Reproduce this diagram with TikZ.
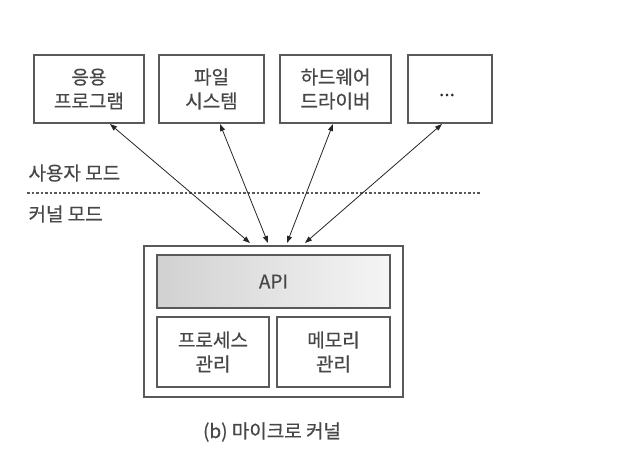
\documentclass[tikz,border=0pt]{standalone}
\usepackage{fontspec}
\setmainfont{Noto Sans CJK KR}[BoldFont={Noto Sans CJK KR},BoldFeatures={FakeBold=0.5}]
\usetikzlibrary{arrows.meta}
\begin{document}
\begin{tikzpicture}[x=1pt,y=-1pt,
  box/.style={draw=black!65,line width=1.4pt,fill=white,inner sep=0pt},
  lbl/.style={text=black!72,font=\fontsize{19}{24}\selectfont\bfseries,align=center},
  conn/.style={draw=black!85,line width=0.8pt,{Triangle[length=7pt,width=5pt]}-{Triangle[length=7pt,width=5pt]}}]
\useasboundingbox (0,0) rectangle (643,475);
\fill[white] (0,0) rectangle (643,475);
% top boxes
\node[box,minimum width=110pt,minimum height=68pt] (b1) at (89,89) {};
\node[box,minimum width=105pt,minimum height=68pt] (b2) at (211.5,89) {};
\node[box,minimum width=111pt,minimum height=68pt] (b3) at (335.5,89) {};
\node[box,minimum width=84pt,minimum height=68pt] (b4) at (450,89) {};
\node[lbl] (t1) at (b1) {응용\\프로그램};
\node[lbl] (t2) at (b2) {파일\\시스템};
\node[lbl] (t3) at (b3) {하드웨어\\드라이버};
\node[lbl,font=\fontsize{19}{24}\selectfont\bfseries,text=black!85] (t4) at (447,95) {...};
% mode labels and divider
\node[lbl,anchor=west] (um) at (25,173) {사용자 모드};
\node[lbl,anchor=west] (km) at (25,214) {커널 모드};
\coordinate (dl) at (27,193);
\coordinate (dr) at (480,193);
\draw[black!65,line width=1.2pt,dash pattern=on 2.5pt off 2pt] (dl) -- (dr);
% kernel
\node[box,minimum width=259pt,minimum height=151pt] (ker) at (273.5,321.5) {};
\node[draw=black!65,line width=1.4pt,inner sep=0pt,minimum width=233pt,minimum height=53pt,
  left color=black!18,right color=black!4] (api) at (273.5,281.5) {};
\node[lbl] (apit) at (api) {API};
\node[box,minimum width=112pt,minimum height=70pt] (pm) at (213,352) {};
\node[box,minimum width=113pt,minimum height=70pt] (mm) at (333.5,352) {};
\node[lbl] (pmt) at (pm) {프로세스\\관리};
\node[lbl] (mmt) at (mm) {메모리\\관리};
% arrows
\coordinate (a1t) at (110,124);
\coordinate (a2t) at (220,124);
\coordinate (a3t) at (333,124);
\coordinate (a4t) at (442,124);
\coordinate (a1b) at (250,243);
\coordinate (a2b) at (268,243);
\coordinate (a3b) at (287,243);
\coordinate (a4b) at (305,243);
\draw[conn] (a1t) -- (a1b);
\draw[conn] (a2t) -- (a2b);
\draw[conn] (a3t) -- (a3b);
\draw[conn] (a4t) -- (a4b);
% caption
\node[lbl] (cap) at (272,432) {(b) 마이크로 커널};
\end{tikzpicture}
\end{document}
